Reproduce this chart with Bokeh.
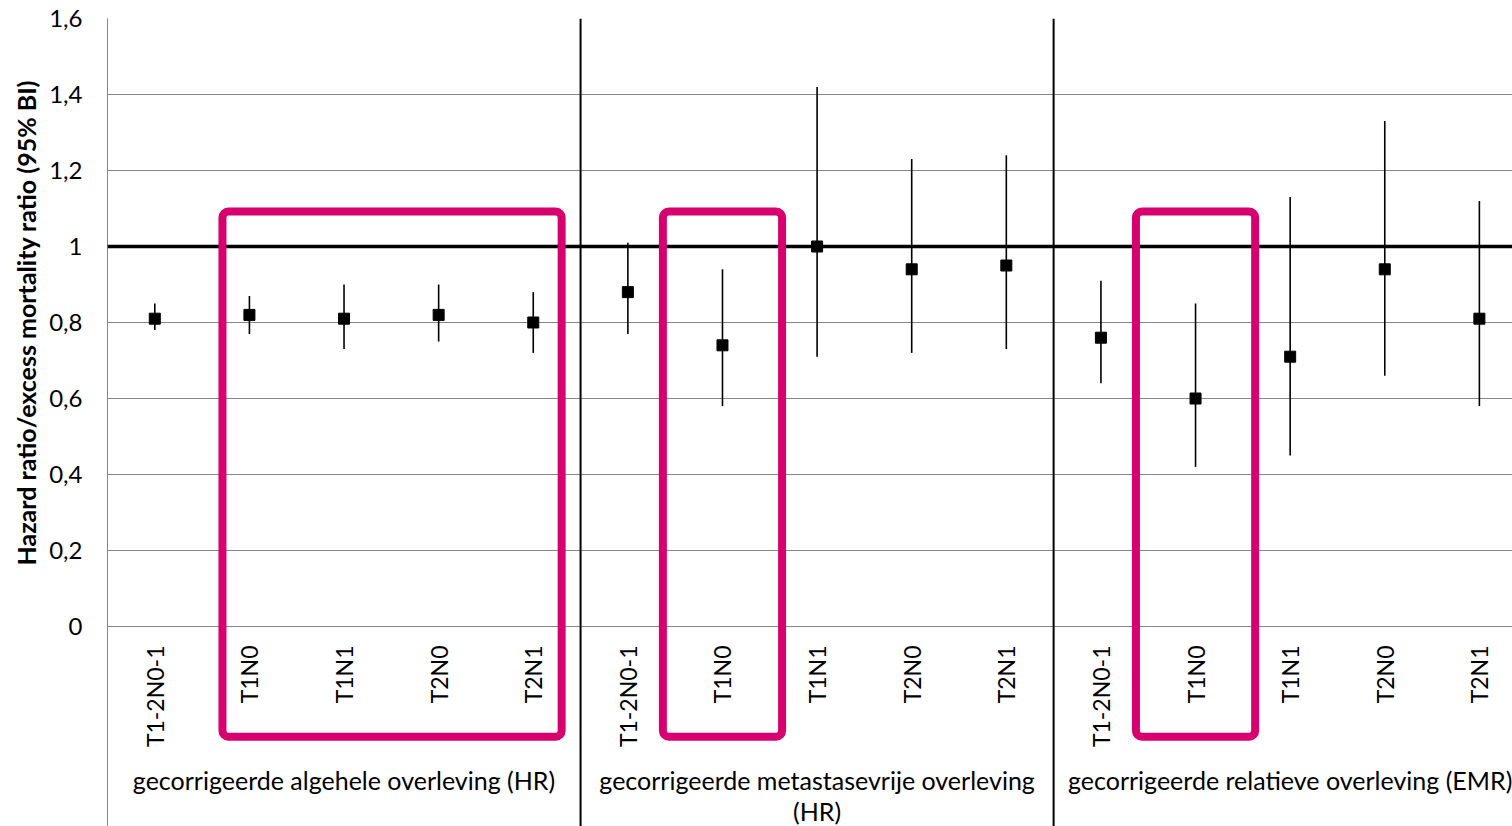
import math
from bokeh.plotting import figure
from bokeh.models import Range1d, FixedTicker, Span, BoxAnnotation, ColumnDataSource, Title
from bokeh.core.properties import value
from bokeh.embed import file_html
from bokeh.resources import INLINE

# ---- data ----
categories = ["T1-2N0-1", "T1N0", "T1N1", "T2N0", "T2N1"]
groups = [
    "gecorrigeerde algehele overleving (HR)",
    "gecorrigeerde metastasevrije overleving\n(HR)",
    "gecorrigeerde relatieve overleving (EMR)",
]
est_overall = [0.81, 0.82, 0.81, 0.82, 0.80]
lo_overall = [0.78, 0.77, 0.73, 0.75, 0.72]
hi_overall = [0.85, 0.87, 0.90, 0.90, 0.88]

est_metfree = [0.88, 0.74, 1.00, 0.94, 0.95]
lo_metfree = [0.77, 0.58, 0.71, 0.72, 0.73]
hi_metfree = [1.01, 0.94, 1.42, 1.23, 1.24]

est_relative = [0.76, 0.60, 0.71, 0.94, 0.81]
lo_relative = [0.64, 0.42, 0.45, 0.66, 0.58]
hi_relative = [0.91, 0.85, 1.13, 1.33, 1.12]

y_ticks = [0, 0.2, 0.4, 0.6, 0.8, 1.0, 1.2, 1.4, 1.6]
y_tick_labels = ["0", "0,2", "0,4", "0,6", "0,8", "1", "1,2", "1,4", "1,6"]
y_title = "Hazard ratio/excess mortality ratio (95% BI)"
reference_value = 1.0
# highlighted categories: (group index, first category index, last category index)
highlights = [(0, 1, 4), (1, 1, 1), (2, 1, 1)]

FONT = "Lato"
MAGENTA = "#D6006F"
GRID = "#868686"

est = est_overall + est_metfree + est_relative
lo = lo_overall + lo_metfree + lo_relative
hi = hi_overall + hi_metfree + hi_relative
n_cat = len(categories)
xs = [g * n_cat + i + 0.5 for g in range(len(groups)) for i in range(n_cat)]
labels = [c for _ in groups for c in categories]

src = ColumnDataSource(dict(x=xs, est=est, lo=lo, hi=hi, lab=labels))

p = figure(width=1512, height=826, output_backend="svg", toolbar_location=None,
           x_range=Range1d(0, 14.85), y_range=Range1d(-0.5263, 1.6),
           min_border_left=107, min_border_right=0, min_border_top=18, min_border_bottom=0)
p.outline_line_color = None
p.background_fill_color = "white"
p.border_fill_color = "white"

p.xaxis.visible = False
p.xgrid.visible = False

yax = p.yaxis[0]
yax.ticker = FixedTicker(ticks=y_ticks)
yax.major_label_overrides = {t: l for t, l in zip(y_ticks, y_tick_labels)}
yax.major_tick_line_color = None
yax.minor_tick_line_color = None
yax.major_tick_out = 0
yax.major_tick_in = 0
yax.minor_tick_out = 0
yax.minor_tick_in = 0
yax.axis_line_color = GRID
yax.axis_line_width = 1
yax.major_label_standoff = 25
yax.major_label_text_font = FONT
yax.major_label_text_font_size = "24px"
yax.major_label_text_color = "black"

# y-axis title, placed along the value part of the axis
p.add_layout(Title(text=y_title, align="left", offset=261, standoff=12,
                   text_font=FONT, text_font_size="25px", text_font_style="bold",
                   text_color="black"), "left")

p.ygrid.ticker = FixedTicker(ticks=y_ticks)
p.ygrid.grid_line_color = GRID
p.ygrid.grid_line_width = 1

# reference line
p.add_layout(Span(location=reference_value, dimension="width", line_color="black", line_width=3.5))
# group separators
for g in range(1, len(groups)):
    p.add_layout(Span(location=g * n_cat, dimension="height", line_color="black", line_width=2))

# error bars and points
p.segment(x0="x", y0="lo", x1="x", y1="hi", source=src, line_color="black", line_width=1.6)
p.scatter(x="x", y="est", source=src, marker="square", size=11, fill_color="black", line_color="black")

# category labels (rotated)
p.text(x="x", y=-0.05, text="lab", source=src, angle=math.pi / 2,
       text_align="right", text_baseline="middle", text_font=value(FONT),
       text_font_size="23px", text_color="black")

# group labels (split explicit line breaks into separate lines)
gl_x, gl_y, gl_t = [], [], []
for g, lab in enumerate(groups):
    for k, line in enumerate(lab.split("\n")):
        gl_x.append(g * n_cat + n_cat / 2)
        gl_y.append(-0.405 - 0.081 * k)
        gl_t.append(line)
p.text(x=gl_x, y=gl_y, text=gl_t, text_align="center", text_baseline="middle",
       text_font=value(FONT), text_font_size="25px", text_color="black")

# highlight boxes
for g, a, b in highlights:
    base = g * n_cat
    if a == b:
        left, right = base + a - 0.13, base + b + 1.13
    else:
        left, right = base + a + 0.215, base + b + 0.80
    p.add_layout(BoxAnnotation(left=left, right=right, top=1.092, bottom=-0.29,
                               fill_alpha=0, fill_color=None, line_color=MAGENTA,
                               line_alpha=1.0, line_width=8, border_radius=6))

open("out.html", "w").write(file_html(p, INLINE))
